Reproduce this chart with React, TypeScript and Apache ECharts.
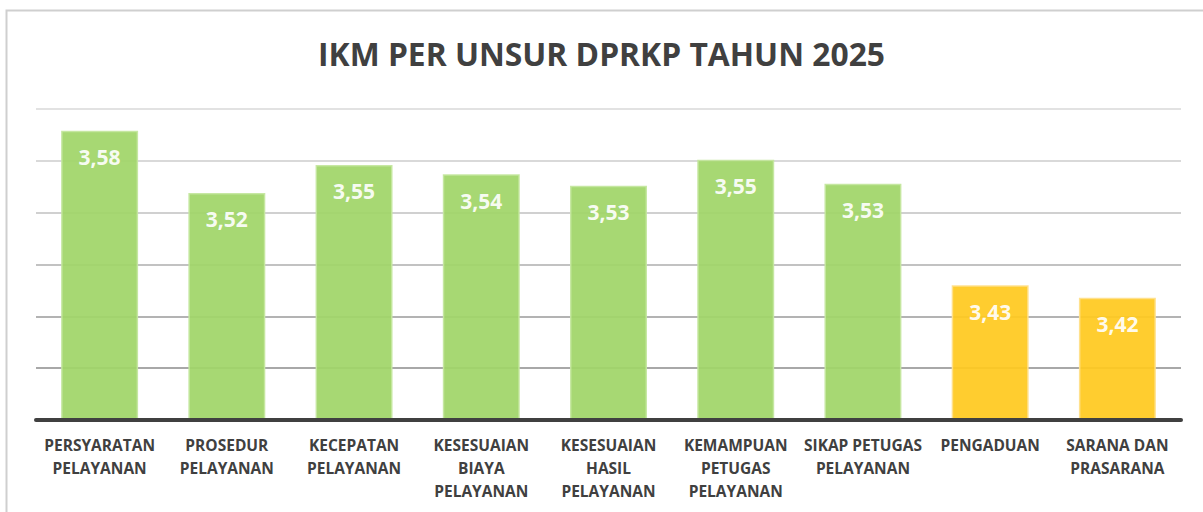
import React, { useEffect, useRef } from "react";
import * as echarts from "echarts";

const TITLE = "IKM PER UNSUR DPRKP TAHUN 2025";
const CATEGORIES = [
  "PERSYARATAN\nPELAYANAN",
  "PROSEDUR\nPELAYANAN",
  "KECEPATAN\nPELAYANAN",
  "KESESUAIAN\nBIAYA\nPELAYANAN",
  "KESESUAIAN\nHASIL\nPELAYANAN",
  "KEMAMPUAN\nPETUGAS\nPELAYANAN",
  "SIKAP PETUGAS\nPELAYANAN",
  "PENGADUAN",
  "SARANA DAN\nPRASARANA",
];
const VALUES = [3.579, 3.519, 3.546, 3.537, 3.526, 3.551, 3.528, 3.43, 3.418];
const Y_MIN = 3.3;
const Y_MAX = 3.6;
const Y_STEP = 0.05;

const GREEN = "#A0D568";
const YELLOW = "#FFC91F";
const BAR_COLORS = [GREEN, GREEN, GREEN, GREEN, GREEN, GREEN, GREEN, YELLOW, YELLOW];
const BAR_BORDERS = ["#C4E69E", "#C4E69E", "#C4E69E", "#C4E69E", "#C4E69E", "#C4E69E", "#C4E69E", "#FFE08A", "#FFE08A"];

const FONT = "'Open Sans', 'Noto Sans', sans-serif";

export default function App() {
  const ref = useRef<HTMLDivElement>(null);
  useEffect(() => {
    if (!ref.current) return;
    const chart = echarts.init(ref.current, null, { renderer: "svg" });
    chart.setOption({
      animation: false,
      backgroundColor: "#ffffff",
      title: {
        text: TITLE,
        left: "center",
        top: 32,
        textStyle: { fontFamily: FONT, fontWeight: "bold", fontSize: 31.8, color: "#404040" },
      },
      graphic: [
        {
          type: "rect",
          shape: { x: 6.5, y: 10.5, width: 1220, height: 530 },
          style: { fill: "none", stroke: "#cfcfcf", lineWidth: 2 },
          silent: true,
          z: 100,
        },
      ],
      grid: { left: 36, right: 22, top: 109, bottom: 92, containLabel: false },
      xAxis: {
        type: "category",
        data: CATEGORIES,
        axisLine: { show: true, lineStyle: { color: "#404040", width: 4 } },
        axisTick: { show: false },
        axisLabel: {
          interval: 0,
          margin: 13,
          fontFamily: FONT,
          fontWeight: "bold",
          fontSize: 15.5,
          lineHeight: 23,
          color: "#404040",
        },
        z: 10,
      },
      yAxis: {
        type: "value",
        min: Y_MIN,
        max: Y_MAX,
        interval: Y_STEP,
        axisLabel: { show: false },
        axisLine: { show: false },
        axisTick: { show: false },
        splitLine: {
          show: true,
          lineStyle: {
            width: 2,
            color: ["#a8a8a8", "#a8a8a8", "#b3b3b3", "#c2c2c2", "#d0d0d0", "#d9d9d9", "#e2e2e2"],
          },
        },
      },
      series: [
        {
          type: "bar",
          barWidth: "60.5%",
          data: VALUES.map((v, i) => ({
            value: v,
            itemStyle: {
              color: BAR_COLORS[i],
              opacity: 0.93,
              borderColor: BAR_BORDERS[i],
              borderWidth: 1.5,
            },
          })),
          label: {
            show: true,
            position: "insideTop",
            distance: 16,
            fontFamily: FONT,
            fontWeight: "bold",
            fontSize: 21,
            color: "#ffffff",
            formatter: (p: any) => (Math.round(p.value * 100) / 100).toFixed(2).replace(".", ","),
          },
        },
      ],
    });
    return () => chart.dispose();
  }, []);
  return (
    <div
      ref={ref}
      style={{ position: "fixed", left: 0, top: 0, width: 1203, height: 512 }}
    />
  );
}
